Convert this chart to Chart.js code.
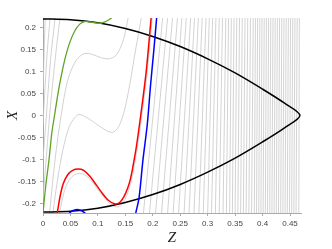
<!DOCTYPE html>
<html>
<head>
<meta charset="utf-8">
<script src="https://cdn.jsdelivr.net/npm/chart.js@4/dist/chart.umd.min.js"></script>
<style>
  html, body { margin: 0; padding: 0; background: #fff; }
  canvas { display: block; }
</style>
</head>
<body>
<canvas id="chart" width="332" height="249"></canvas>
<script>
// axis ticks
var zTicks = [0, 0.05, 0.1, 0.15, 0.2, 0.25, 0.3, 0.35, 0.4, 0.45];
var xTicks = [-0.2, -0.15, -0.1, -0.05, 0, 0.05, 0.1, 0.15, 0.2];

// black boundary (upper half, mirrored for the lower half)
var boundZ = [0, 0.05, 0.1, 0.15, 0.2, 0.25, 0.3, 0.35, 0.4, 0.44, 0.468];
var boundX = [0.220, 0.218, 0.211, 0.198, 0.180, 0.157, 0.129, 0.097, 0.060, 0.028, 0];

// coloured trajectories
var redZ = [0.026, 0.031, 0.037, 0.045, 0.054, 0.064, 0.074, 0.085, 0.097, 0.108, 0.119, 0.130, 0.139,
  0.147, 0.154, 0.159, 0.164, 0.170, 0.178, 0.188, 0.197];
var redX = [-0.222, -0.185, -0.155, -0.135, -0.125, -0.122, -0.125, -0.138, -0.158, -0.177, -0.193, -0.201, -0.199,
  -0.186, -0.166, -0.146, -0.115, -0.072, 0, 0.100, 0.222];

var blueZ = [0.169, 0.175, 0.182, 0.190, 0.196, 0.202, 0.207];
var blueX = [-0.222, -0.187, -0.102, -0.020, 0.070, 0.150, 0.222];
var blueBumpZ = [0.045, 0.052, 0.0625, 0.072, 0.080];
var blueBumpX = [-0.226, -0.218, -0.214, -0.218, -0.226];

var greenZ = [0.0, 0.005, 0.011, 0.016, 0.021, 0.026, 0.031, 0.040, 0.049, 0.058, 0.067, 0.076, 0.090, 0.104, 0.113, 0.120, 0.125];
var greenX = [-0.222, -0.160, -0.100, -0.040, 0, 0.040, 0.076, 0.129, 0.167, 0.193, 0.208, 0.214, 0.212, 0.210, 0.213, 0.218, 0.222];

// grey trajectories on the left
var greyCurvesZ = [
  [0.0, 0.002, 0.004],
  [0.0, 0.004, 0.008, 0.013],
  [0.0, 0.005, 0.009, 0.014, 0.022],
  [0.0, 0.007, 0.012, 0.019, 0.025, 0.031],
  [0.012, 0.022, 0.033, 0.045, 0.060, 0.075, 0.090, 0.105, 0.120, 0.133, 0.143, 0.150, 0.155],
  [0.018, 0.026, 0.036, 0.048, 0.064, 0.080, 0.100, 0.118, 0.128, 0.138, 0.148, 0.158, 0.166, 0.173, 0.179],
  [0.030, 0.035, 0.041, 0.049, 0.057, 0.066, 0.076, 0.087, 0.099, 0.110, 0.121, 0.132, 0.141,
    0.149, 0.156, 0.161, 0.166, 0.172, 0.180, 0.190, 0.199]
];
var greyCurvesX = [
  [0.06, 0.14, 0.222],
  [-0.02, 0.07, 0.15, 0.222],
  [-0.10, -0.02, 0.05, 0.13, 0.222],
  [-0.19, -0.08, 0, 0.09, 0.16, 0.222],
  [-0.222, -0.10, 0, 0.080, 0.125, 0.141, 0.139, 0.132, 0.129, 0.137, 0.160, 0.190, 0.222],
  [-0.222, -0.150, -0.080, -0.025, 0.002, -0.005, -0.022, -0.036, -0.038, -0.025, 0.010, 0.070, 0.130, 0.180, 0.222],
  [-0.222, -0.192, -0.164, -0.145, -0.135, -0.132, -0.135, -0.147, -0.167, -0.185, -0.200, -0.208, -0.206,
    -0.192, -0.170, -0.148, -0.117, -0.073, 0, 0.100, 0.222]
];

// near-vertical grey lines on the right: Z at the bottom and top edges
var edgeX = [-0.222, 0.222];
var lineBottomZ = [0.183, 0.194, 0.205, 0.216, 0.227, 0.237, 0.247, 0.257, 0.266, 0.275, 0.284, 0.292,
  0.300, 0.307, 0.314, 0.321, 0.328, 0.334, 0.340, 0.345, 0.350, 0.355, 0.360, 0.365, 0.370, 0.375,
  0.380, 0.385, 0.389, 0.393, 0.397, 0.401, 0.405, 0.409, 0.413, 0.417, 0.421, 0.425, 0.429, 0.433,
  0.437, 0.441, 0.445, 0.449, 0.453, 0.457, 0.461, 0.466];
var lineTopZ = [0.218, 0.227, 0.236, 0.245, 0.253, 0.261, 0.269, 0.276, 0.283, 0.290, 0.297, 0.303,
  0.309, 0.315, 0.321, 0.327, 0.333, 0.338, 0.343, 0.348, 0.353, 0.358, 0.363, 0.368, 0.373, 0.378,
  0.383, 0.387, 0.391, 0.395, 0.399, 0.403, 0.407, 0.411, 0.415, 0.419, 0.423, 0.427, 0.431, 0.435,
  0.439, 0.443, 0.447, 0.451, 0.455, 0.459, 0.463, 0.467];

function pts(zs, xs) {
  return zs.map(function (z, i) { return { x: z, y: xs[i] }; });
}

function line(data, color, width, order, tension) {
  return {
    data: data,
    borderColor: color,
    borderWidth: width,
    pointRadius: 0,
    fill: false,
    tension: tension,
    order: order
  };
}

var datasets = [];

greyCurvesZ.forEach(function (zs, i) {
  datasets.push(line(pts(zs, greyCurvesX[i]), '#c6c6c6', 0.8, 10, 0.3));
});
lineBottomZ.forEach(function (zb, i) {
  datasets.push(line(pts([zb, lineTopZ[i]], edgeX), '#c8c8c8', 0.8, 10, 0));
});

// lens: upper half left to right, then lower half back
var lensZ = boundZ.concat(boundZ.slice(0, -1).reverse());
var lensX = boundX.concat(boundX.slice(0, -1).reverse().map(function (v) { return -v; }));
datasets.push(line(pts(lensZ, lensX), '#000000', 1.5, 2, 0.3));

datasets.push(line(pts(redZ, redX), '#ff0000', 1.5, 1, 0.3));
datasets.push(line(pts(blueZ, blueX), '#0000ff', 1.5, 1, 0.3));
datasets.push(line(pts(blueBumpZ, blueBumpX), '#0000ff', 1.5, 1, 0.3));
datasets.push(line(pts(greenZ, greenX), '#5fa327', 1.3, 1, 0.3));

var tickFont = { family: 'Liberation Sans', size: 8 };
var titleFont = { family: 'Liberation Serif', size: 15, style: 'italic' };

new Chart(document.getElementById('chart'), {
  type: 'line',
  data: { datasets: datasets },
  options: {
    responsive: false,
    animation: false,
    layout: { padding: { top: 18, right: 31, left: 0, bottom: 0 } },
    plugins: { legend: { display: false }, tooltip: { enabled: false } },
    scales: {
      x: {
        type: 'linear',
        min: 0,
        max: 0.47,
        afterBuildTicks: function (axis) {
          axis.ticks = zTicks.map(function (v) { return { value: v }; });
        },
        afterFit: function (axis) { axis.height = 36; },
        ticks: {
          font: tickFont,
          color: '#444',
          padding: 3,
          maxRotation: 0,
          autoSkip: false,
          callback: function (v) { return String(Math.round(v * 100) / 100); }
        },
        grid: { drawOnChartArea: false, drawTicks: true, tickLength: 3, color: '#aaa' },
        border: { display: true, color: '#aaa', width: 1 },
        title: { display: true, text: 'Z', font: titleFont, color: '#222', padding: { top: 0, bottom: 2 } }
      },
      y: {
        type: 'linear',
        min: -0.222,
        max: 0.222,
        afterBuildTicks: function (axis) {
          axis.ticks = xTicks.map(function (v) { return { value: v }; });
        },
        afterFit: function (axis) { axis.width = 43; },
        ticks: {
          font: tickFont,
          color: '#444',
          padding: 4,
          autoSkip: false,
          callback: function (v) { return String(Math.round(v * 100) / 100); }
        },
        grid: { drawOnChartArea: false, drawTicks: true, tickLength: 3, color: '#aaa' },
        border: { display: true, color: '#aaa', width: 1 },
        title: { display: true, text: 'X', font: titleFont, color: '#222', padding: { top: 4, bottom: 0 } }
      }
    }
  }
});
</script>
</body>
</html>
